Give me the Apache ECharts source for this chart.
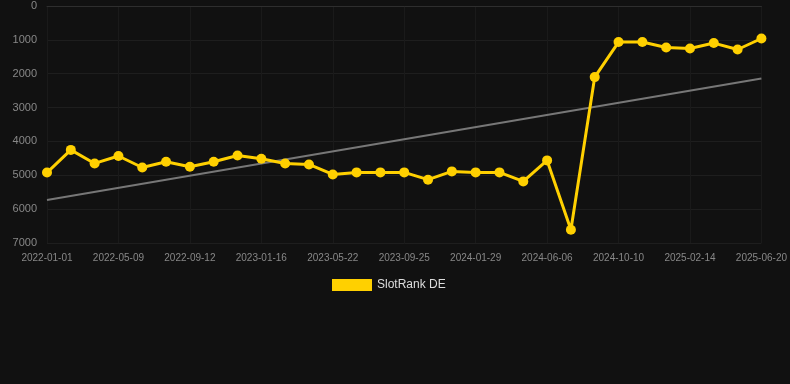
<!DOCTYPE html>
<html><head><meta charset="utf-8">
<script src="https://cdn.jsdelivr.net/npm/echarts@6/dist/echarts.min.js"></script>
<style>html,body{margin:0;padding:0;background:#111111;}#c{width:790px;height:384px;}</style>
</head><body><div id="c"></div>
<script>
const dates = ['2022-01-01','2022-02-12','2022-03-26','2022-05-09','2022-06-20','2022-08-01','2022-09-12','2022-10-24','2022-12-05','2023-01-16','2023-02-27','2023-04-10','2023-05-22','2023-07-03','2023-08-14','2023-09-25','2023-11-06','2023-12-18','2024-01-29','2024-03-11','2024-04-23','2024-06-06','2024-07-18','2024-08-29','2024-10-10','2024-11-21','2025-01-03','2025-02-14','2025-03-28','2025-05-09','2025-06-20'];
const rankDE = [4920,4250,4650,4430,4770,4600,4750,4600,4415,4510,4650,4680,4975,4915,4915,4915,5130,4885,4915,4915,5180,4560,6610,2100,1065,1065,1225,1255,1095,1285,960];
const trendStart = 5730;
const trendEnd = 2140;
const seriesName = 'SlotRank DE';

const chart = echarts.init(document.getElementById('c'));
chart.setOption({
  backgroundColor: '#111111',
  animation: false,
  grid: {left: 47, right: 28, top: 6, bottom: 141},
  legend: {
    data: [seriesName], bottom: 88, left: 327,
    itemWidth: 40, itemHeight: 12, icon: 'rect',
    textStyle: {color: '#dddddd', fontSize: 12, fontFamily: 'Liberation Sans, Arial, sans-serif'}
  },
  xAxis: {
    type: 'category', data: dates, boundaryGap: false,
    axisLine: {show: true, lineStyle: {color: '#2e2e2e'}},
    axisTick: {show: false},
    axisLabel: {interval: 2, color: '#888888', fontSize: 10, margin: 10, fontFamily: 'Liberation Sans, Arial, sans-serif'},
    splitLine: {show: true, interval: 2, lineStyle: {color: '#1a1a1a'}}
  },
  yAxis: {
    type: 'value', inverse: true, min: 0, max: 7000, interval: 1000,
    axisLine: {show: false}, axisTick: {show: false},
    axisLabel: {color: '#888888', fontSize: 11, margin: 10, fontFamily: 'Liberation Sans, Arial, sans-serif',
      formatter: v => String(v)},
    splitLine: {show: true, lineStyle: {color: '#1e1e1e'}}
  },
  series: [
    {
      name: 'trend', type: 'line', data: [[0, trendStart], [dates.length - 1, trendEnd]],
      symbol: 'none', lineStyle: {color: '#777777', width: 2}, z: 1, silent: true
    },
    {
      name: seriesName, type: 'line', data: rankDE,
      symbol: 'circle', symbolSize: 10,
      itemStyle: {color: '#FFD000'},
      lineStyle: {color: '#FFD000', width: 3}, z: 2
    }
  ]
});
</script></body></html>
